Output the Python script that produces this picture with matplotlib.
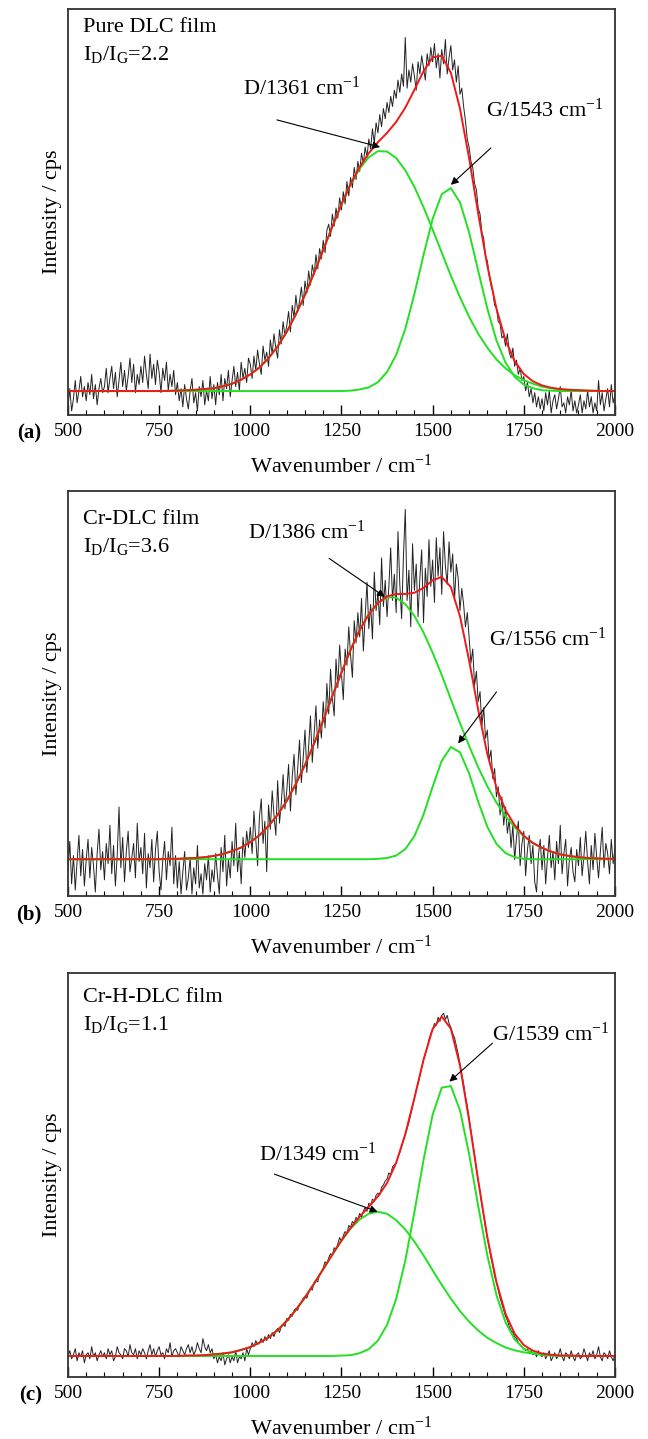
import numpy as np
import matplotlib
matplotlib.use('Agg')
import matplotlib.pyplot as plt
from matplotlib.ticker import MultipleLocator

plt.rcParams['font.family'] = ['Liberation Serif', 'DejaVu Serif']
plt.rcParams['mathtext.fontset'] = 'custom'
plt.rcParams['mathtext.rm'] = 'Liberation Serif'
plt.rcParams['mathtext.it'] = 'Liberation Serif:italic'

# wavenumber grids (cm^-1): raw spectrum and fitted curves
spec_x = np.arange(500, 2001, 5)
fit_x = np.arange(500, 2001, 25)

panel_tags = ['(a)', '(b)', '(c)']
film_names = ['Pure DLC film', 'Cr-DLC film', 'Cr-H-DLC film']
id_ig = ['2.2', '3.6', '1.1']
d_pos = [1361, 1386, 1349]
g_pos = [1543, 1556, 1539]

# ---- (a) pure DLC ----
a_spec = [2.0, 6.5, 1.0, 4.0, 8.5, 3.0, 6.0, 9.5, 4.5, 7.0, 3.5, 8.0, 5.0, 10.0, 4.0, 7.5, 2.5, 6.5, 9.0, 5.5,
          7.0, 11.5, 5.5, 9.0, 12.0, 6.5, 10.5, 4.5, 8.5, 13.0, 7.0, 11.0, 6.0, 9.5, 14.0, 8.0, 12.5, 5.5, 10.0, 7.5,
          12.0, 8.0, 14.5, 10.0, 6.5, 15.0, 9.0, 12.5, 7.5, 13.5, 10.5, 5.5, 11.5, 8.5, 13.0, 6.0, 10.0, 7.0, 11.0, 5.0,
          8.0, 3.5, 6.5, 2.0, 7.5, 4.0, 1.5, 6.0, 9.0, 3.0, 5.5, 1.0, 7.0, 4.5, 8.5, 2.5, 6.0, 3.5, 9.5, 4.0,
          7.5, 2.5, 8.0, 5.0, 10.0, 3.5, 9.0, 6.5, 11.0, 4.5, 8.5, 12.0, 7.0, 10.5, 6.0, 13.0, 9.0, 11.5, 8.0, 14.0,
          12.5, 9.0, 14.5, 11.0, 16.0, 12.5, 10.0, 17.0, 13.5, 15.5, 12.0, 18.5, 15.0, 20.0, 16.5, 14.0, 21.0, 17.5, 23.0, 19.5,
          22.0, 25.5, 20.5, 27.0, 24.0, 29.5, 25.5, 28.0, 31.5, 27.0, 33.0, 30.0, 35.5, 32.0, 37.0, 34.5, 39.5, 36.0, 41.0, 38.5,
          43.0, 40.0, 45.5, 47.0, 44.0, 49.5, 46.5, 51.0, 48.5, 53.5, 50.5, 55.0, 52.0, 57.5, 54.0, 58.5, 56.0, 61.0, 58.0, 62.5,
          60.0, 64.5, 62.0, 66.0, 63.5, 68.0, 65.5, 70.5, 67.0, 72.0, 69.5, 74.0, 71.0, 75.5, 73.0, 77.0, 74.5, 78.5, 76.0, 80.0,
          78.0, 82.5, 79.5, 84.0, 81.0, 93.0, 80.5, 85.0, 82.0, 86.5, 83.5, 80.0, 87.0, 84.0, 88.5, 85.5, 82.5, 89.0, 86.0, 90.5,
          87.0, 91.5, 85.5, 89.0, 83.0, 90.0, 86.5, 92.5, 84.0, 88.0, 91.0, 85.0, 87.5, 82.0, 86.0, 79.0, 80.5, 76.0, 72.5, 68.0,
          66.0, 62.5, 61.0, 57.0, 55.5, 51.0, 49.5, 45.0, 43.5, 39.0, 38.0, 34.5, 32.0, 30.5, 27.0, 26.5, 23.0, 22.5, 19.0, 19.5,
          17.0, 20.0, 15.5, 14.0, 16.5, 12.0, 13.5, 10.0, 11.5, 8.5, 9.5, 6.0, 8.0, 4.5, 6.5, 3.0, 5.5, 2.0, 4.5, 1.5,
          4.0, 1.0, 5.5, 2.5, 6.0, 0.5, 3.5, 5.0, 1.5, 4.0, 7.0, 2.0, 3.0, 0.5, 4.5, 2.5, 6.0, 1.0, 3.5, 0.5,
          2.5, 5.0, 0.5, 3.5, 1.5, 6.0, 2.0, 4.5, 0.5, 3.0, 1.0, 8.5, 2.5, 5.5, 1.0, 4.0, 6.5, 2.0, 7.5, 3.0, 5.0]
a_peak_d = [5.9] * 11 + [5.95, 6.0, 6.1, 6.2, 6.4, 6.6, 7.1, 7.7, 8.7, 10.0, 11.7, 14.0, 16.9, 20.5, 24.8, 29.6, 35.0,
                         40.7, 46.4, 51.9, 56.8, 60.7, 63.5, 65.0, 64.9, 63.3, 60.3, 56.2, 51.2, 45.7, 40.0, 34.3, 29.0,
                         24.2, 20.0, 16.6, 13.7, 11.5, 9.8, 8.6, 7.7, 7.0, 6.6, 6.3, 6.2, 6.1, 6.0, 5.95, 5.9, 5.9]
a_peak_g = [5.9] * 31 + [6.0, 6.3, 6.8, 8.1, 10.6, 14.8, 21.2, 29.8, 39.4, 48.3, 54.4, 55.9, 52.4, 45.0, 35.5, 26.2,
                         18.4, 12.9, 9.4, 7.5, 6.6, 6.1, 6.0, 5.9] + [5.9] * 6
a_fit = [5.9] * 11 + [5.95, 6.0, 6.1, 6.2, 6.4, 6.6, 7.1, 7.7, 8.7, 10.0, 11.7, 14.0, 16.9, 20.5, 24.8, 29.6, 35.0,
                      40.7, 46.4, 51.9, 56.9, 61.1, 64.5, 67.2, 69.5, 72.2, 75.7, 80.1, 84.7, 88.1, 88.5, 84.3, 75.5,
                      63.3, 49.6, 36.8, 26.2, 18.4, 13.3, 10.1, 8.3, 7.3, 6.7, 6.4, 6.2, 6.1, 6.0, 5.95, 5.9, 5.9]

# ---- (b) Cr-DLC ----
b_spec = [6.0, 13.5, 3.0, 10.0, 1.5, 8.5, 15.0, 5.0, 11.5, 2.5, 9.0, 14.0, 4.5, 12.0, 7.5, 1.0, 10.5, 16.5, 6.5, 11.0,
          4.0, 13.0, 8.0, 17.5, 5.5, 12.5, 2.5, 10.0, 22.0, 7.0, 14.5, 3.5, 11.0, 16.0, 6.0, 9.5, 13.0, 4.5, 18.0, 8.5,
          12.0, 5.5, 15.5, 2.0, 10.5, 7.0, 14.0, 3.5, 11.5, 16.0, 6.0, 1.5, 9.0, 13.5, 4.0, 11.0, 7.5, 17.0, 3.0, 10.0,
          2.0, 8.5, 0.5, 6.0, 11.0, 1.5, 4.5, 9.5, 0.5, 7.0, 3.0, 12.5, 2.0, 5.5, 0.5, 8.0, 4.0, 10.0, 1.0, 6.5,
          3.5, 10.5, 5.0, 0.5, 12.0, 6.0, 15.0, 2.5, 9.0, 4.5, 13.5, 7.5, 18.0, 6.0, 11.0, 3.0, 14.5, 9.5, 16.0, 12.0,
          17.0, 10.5, 21.0, 14.0, 7.5, 19.5, 24.0, 13.0, 18.5, 6.0, 22.5, 16.5, 26.0, 20.0, 15.0, 28.5, 18.0, 23.0, 30.0, 21.5,
          26.0, 32.5, 21.0, 29.5, 35.0, 25.0, 31.5, 38.5, 28.0, 34.0, 41.0, 30.5, 37.0, 44.5, 33.0, 40.0, 47.0, 36.5, 43.5, 39.0,
          48.0, 41.5, 52.5, 45.0, 56.0, 49.0, 44.5, 58.5, 51.5, 62.0, 55.0, 48.5, 61.0, 57.0, 66.5, 59.5, 54.0, 68.0, 62.5, 70.0,
          64.0, 73.5, 60.5, 69.0, 77.5, 66.0, 72.0, 63.5, 80.0, 70.5, 75.0, 67.0, 83.5, 71.5, 78.0, 69.0, 76.5, 86.0, 73.0, 79.5,
          70.0, 90.0, 77.0, 68.5, 84.0, 95.5, 73.0, 80.5, 66.5, 87.0, 75.5, 82.0, 69.0, 78.5, 85.5, 67.5, 81.0, 74.0, 88.0, 76.5,
          83.0, 72.5, 88.5, 79.0, 86.0, 74.5, 90.0, 81.5, 77.0, 87.5, 80.0, 84.5, 73.0, 82.0, 78.5, 70.5, 76.0, 72.0, 66.5, 70.0,
          64.0, 57.5, 61.0, 52.0, 55.5, 48.0, 50.5, 42.0, 46.5, 39.0, 41.0, 33.5, 36.0, 29.0, 31.5, 24.5, 27.0, 20.0, 24.5, 17.5,
          22.0, 15.5, 19.0, 12.0, 17.5, 9.0, 14.5, 18.5, 7.5, 13.0, 16.0, 5.0, 11.5, 15.0, 8.0, 12.5, 3.5, 1.0, 10.0, 14.0,
          6.5, 12.5, 3.0, 9.5, 15.0, 7.0, 11.0, 4.0, 13.5, 8.0, 17.5, 5.5, 10.5, 14.0, 2.5, 9.0, 12.0, 6.0, 3.5, 11.5,
          7.5, 14.5, 5.0, 10.0, 16.0, 8.5, 3.0, 12.5, 6.5, 15.5, 9.5, 4.5, 11.0, 17.0, 7.0, 13.0, 10.5, 5.5, 14.0, 8.0, 12.0]
b_peak_d = [9.1] * 11 + [9.2, 9.2, 9.3, 9.4, 9.6, 9.9, 10.4, 11.1, 12.0, 13.3, 15.0, 17.3, 20.1, 23.5, 27.7, 32.4,
                         37.7, 43.4, 49.4, 55.2, 60.8, 65.7, 69.6, 72.4, 73.8, 73.7, 72.1, 69.2, 65.1, 60.1, 54.6, 48.6,
                         42.7, 37.1, 31.8, 27.1, 23.1, 19.7, 17.0, 14.8, 13.1, 11.9, 11.0, 10.3, 9.9, 9.6, 9.4, 9.3, 9.2, 9.2]
b_peak_g = [9.1] * 34 + [9.2, 9.4, 10.0, 11.6, 14.8, 20.1, 27.0, 33.4, 36.8, 35.5, 30.3, 23.3, 17.1, 12.9, 10.6,
                         9.6, 9.2, 9.1] + [9.1] * 9
b_fit = [9.1] * 11 + [9.2, 9.2, 9.3, 9.4, 9.6, 9.9, 10.4, 11.1, 12.0, 13.3, 15.0, 17.3, 20.1, 23.5, 27.7, 32.4,
                      37.7, 43.4, 49.4, 55.2, 60.8, 65.7, 69.6, 72.4, 74.0, 74.6, 74.6, 74.9, 76.1, 78.0, 78.8, 76.3,
                      69.1, 58.2, 46.0, 35.1, 26.8, 21.2, 17.5, 14.9, 13.1, 11.9, 11.0, 10.3, 9.9, 9.6, 9.4, 9.3, 9.2, 9.2]

# ---- (c) Cr-H-DLC ----
c_spec = [5.0, 6.5, 4.5, 5.5, 7.0, 4.0, 6.0, 5.0, 6.5, 3.5, 5.5, 6.0, 4.5, 7.5, 5.0, 6.0, 4.0, 5.5, 6.5, 5.0,
          6.0, 4.5, 7.0, 5.5, 6.5, 4.0, 5.0, 7.5, 6.0, 5.5, 4.5, 7.0, 6.5, 5.0, 8.0, 6.0, 5.5, 7.0, 4.5, 6.5,
          5.5, 7.0, 6.0, 4.5, 6.5, 8.0, 5.5, 7.0, 5.0, 6.5, 7.5, 5.5, 6.0, 4.5, 7.0, 6.0, 8.5, 5.0, 6.5, 7.0,
          6.0, 5.0, 7.5, 6.5, 5.5, 7.0, 8.0, 6.0, 7.5, 5.5, 6.5, 8.5, 7.0, 6.0, 9.5, 7.5, 6.5, 8.0, 6.0, 7.0,
          4.5, 5.5, 3.5, 5.0, 4.0, 6.0, 3.0, 4.5, 5.5, 3.5, 5.0, 4.0, 6.5, 3.5, 5.0, 4.5, 6.0, 4.0, 7.0, 5.5,
          7.0, 8.5, 7.5, 9.0, 8.0, 8.5, 9.5, 8.5, 10.0, 9.0, 10.5, 9.5, 11.0, 10.0, 11.5, 12.0, 11.0, 12.5, 13.0, 12.5,
          14.5, 14.0, 15.5, 15.0, 16.5, 17.0, 16.5, 18.0, 18.5, 19.5, 20.0, 19.5, 21.0, 22.0, 21.5, 23.5, 24.0, 23.5, 25.5, 26.0,
          27.0, 28.5, 28.0, 29.5, 30.5, 30.0, 32.0, 31.5, 33.0, 34.5, 33.5, 35.0, 36.0, 35.5, 37.5, 37.0, 38.5, 38.0, 39.5, 39.0,
          40.5, 39.5, 41.0, 42.0, 41.0, 43.0, 42.5, 44.0, 43.5, 45.0, 45.5, 45.0, 47.0, 47.5, 48.5, 49.0, 50.5, 50.0, 52.0, 52.5,
          53.0, 54.5, 55.5, 57.0, 58.5, 60.0, 61.5, 63.0, 65.0, 67.0, 69.0, 71.0, 72.5, 74.5, 76.5, 78.5, 80.0, 81.5, 83.5, 85.0,
          86.0, 87.5, 87.0, 89.0, 88.0, 89.5, 90.0, 88.5, 89.5, 87.5, 86.5, 85.0, 84.0, 82.0, 80.0, 77.5, 75.0, 72.5, 69.5, 67.0,
          64.0, 61.0, 58.0, 55.0, 51.5, 48.5, 46.0, 42.5, 40.0, 37.0, 34.5, 32.0, 29.5, 27.5, 25.0, 23.5, 21.5, 19.5, 18.0, 16.5,
          15.0, 14.0, 12.5, 11.5, 11.0, 10.0, 9.5, 8.5, 8.0, 7.5, 7.0, 6.5, 7.0, 6.0, 6.5, 5.5, 6.0, 5.0, 6.5, 5.5,
          5.0, 6.0, 4.5, 5.5, 6.5, 4.0, 5.0, 6.0, 4.5, 5.5, 7.0, 5.0, 4.0, 6.0, 5.5, 4.5, 6.5, 5.0, 4.0, 5.5,
          6.0, 4.5, 5.0, 7.0, 5.5, 4.0, 6.0, 5.0, 6.5, 4.5, 5.5, 7.5, 5.0, 4.0, 6.0, 5.5, 4.5, 6.5, 5.0, 4.0, 5.5]
c_peak_d = [5.2] * 12 + [5.2, 5.3, 5.3, 5.4, 5.6, 5.8, 6.1, 6.7, 7.4, 8.5, 9.8, 11.6, 13.9, 16.6, 19.7, 23.1, 26.7,
                         30.3, 33.7, 36.7, 39.0, 40.4, 40.9, 40.4, 38.8, 36.5, 33.5, 30.1, 26.4, 22.8, 19.4, 16.3, 13.7,
                         11.5, 9.7, 8.4, 7.3, 6.6, 6.1, 5.8, 5.5, 5.4, 5.3, 5.3, 5.2, 5.2, 5.2, 5.2, 5.2]
c_peak_g = [5.2] * 30 + [5.3, 5.4, 5.9, 6.9, 9.0, 12.9, 19.3, 28.8, 40.8, 53.7, 64.9, 71.6, 72.0, 66.0, 55.2, 42.3,
                         30.1, 20.3, 13.5, 9.3, 7.0, 5.9, 5.5, 5.3, 5.2] + [5.2] * 6
c_fit = [5.2] * 12 + [5.2, 5.3, 5.3, 5.4, 5.6, 5.8, 6.1, 6.7, 7.4, 8.5, 9.8, 11.6, 13.9, 16.6, 19.7, 23.1, 26.7,
                      30.3, 33.8, 36.9, 39.7, 42.1, 44.7, 48.0, 53.0, 60.1, 69.0, 78.5, 86.1, 89.2, 86.2, 77.1, 63.6,
                      48.6, 34.6, 23.5, 15.6, 10.7, 7.9, 6.5, 5.8, 5.5, 5.3, 5.3, 5.2, 5.2, 5.2, 5.2, 5.2]

spectra = [a_spec, b_spec, c_spec]
peaks_d = [a_peak_d, b_peak_d, c_peak_d]
peaks_g = [a_peak_g, b_peak_g, c_peak_g]
fits = [a_fit, b_fit, c_fit]

# label / arrow placement per panel (data coords): D text, D arrow tail, head; G text, tail, head
layout = [
    dict(name_y=(0.944, 0.874), dtext=(980, 78.8), dtail=(1073, 72.7), dhead=(1356, 66.0),
         gtext=(1646, 73.5), gtail=(1660, 65.8), ghead=(1550, 56.7)),
    dict(name_y=(0.920, 0.850), dtext=(993, 88.3), dtail=(1216, 83.4), dhead=(1369, 73.9),
         gtext=(1655, 61.8), gtail=(1675, 50.4), ghead=(1570, 37.7)),
    dict(name_y=(0.929, 0.859), dtext=(1024, 53.5), dtail=(1066, 50.2), dhead=(1349, 40.9),
         gtext=(1664, 83.2), gtail=(1664, 82.6), ghead=(1546, 73.1)),
]

fig = plt.figure(figsize=(6.48, 14.39), dpi=100)
bottoms = [0.7116, 0.3773, 0.0431]
heights = [0.2821, 0.2814, 0.2808]

for i in range(3):
    ax = fig.add_axes([0.1049, bottoms[i], 0.8441, heights[i]])
    ax.plot(spec_x, spectra[i], color='#222222', lw=0.7)
    ax.plot(fit_x, peaks_d[i], color='#22e022', lw=1.4)
    ax.plot(fit_x, peaks_g[i], color='#22e022', lw=1.4)
    ax.plot(fit_x, fits[i], color='#f01818', lw=1.4)

    ax.set_xlim(500, 2000)
    ax.set_ylim(0, 100)
    ax.xaxis.set_major_locator(MultipleLocator(250))
    ax.xaxis.set_minor_locator(MultipleLocator(50))
    ax.tick_params(axis='x', which='major', direction='in', length=7, width=1, labelsize=14, pad=6, top=False)
    ax.tick_params(axis='x', which='minor', direction='in', length=3.5, width=0.8, top=False)
    ax.set_yticks([])
    for sp in ax.spines.values():
        sp.set_color('#333333')
        sp.set_linewidth(1.3)

    ax.set_xlabel('Wavenumber / cm$^{\\mathregular{-1}}$', fontsize=16, labelpad=10)
    ax.set_ylabel('Intensity / cps', fontsize=16, labelpad=4)

    lay = layout[i]
    ax.text(0.028, lay['name_y'][0], film_names[i], transform=ax.transAxes, fontsize=16, va='baseline')
    ax.text(0.028, lay['name_y'][1], 'I$_{\\mathregular{D}}$/I$_{\\mathregular{G}}$=' + id_ig[i],
            transform=ax.transAxes, fontsize=16, va='baseline')

    ax.text(*lay['dtext'], 'D/%d cm$^{\\mathregular{-1}}$' % d_pos[i], fontsize=16, va='baseline')
    ax.text(*lay['gtext'], 'G/%d cm$^{\\mathregular{-1}}$' % g_pos[i], fontsize=16, va='baseline')
    arrow = dict(arrowstyle='-|>', color='k', lw=0.8, mutation_scale=11, shrinkA=0, shrinkB=0)
    ax.annotate('', xy=lay['dhead'], xytext=lay['dtail'], arrowprops=arrow)
    ax.annotate('', xy=lay['ghead'], xytext=lay['gtail'], arrowprops=arrow)

    ax.text(-0.048, -0.045, panel_tags[i], transform=ax.transAxes, fontsize=15,
            fontweight='bold', ha='right', va='center')

fig.savefig('out.png', dpi=100)
